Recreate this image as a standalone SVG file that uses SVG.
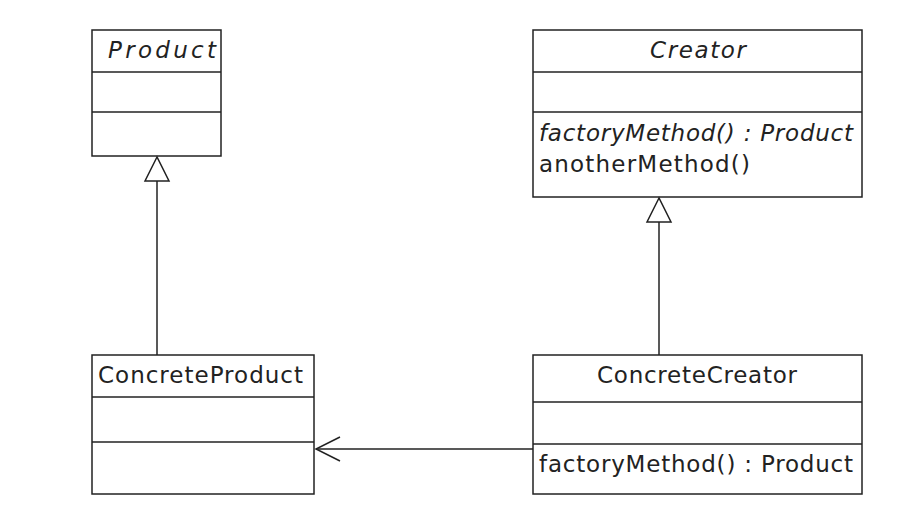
<svg xmlns="http://www.w3.org/2000/svg" width="905" height="512" viewBox="0 0 905 512">
<style>
.b{fill:#fff;stroke:#222;stroke-width:1.5}
.l{stroke:#222;stroke-width:1.5;fill:none}
text{font-family:"DejaVu Sans",sans-serif;font-size:23px;fill:#222}
.i{font-style:italic}
</style>
<rect width="905" height="512" fill="#fff"/>
<g id="Product"><rect class="b" x="92" y="30" width="129" height="126"/><line class="l" x1="92" y1="72" x2="221" y2="72"/><line class="l" x1="92" y1="112" x2="221" y2="112"/><text class="i" x="108" y="58" textLength="108">Product</text></g>
<g id="Creator"><rect class="b" x="533" y="30" width="329" height="167"/><line class="l" x1="533" y1="72" x2="862" y2="72"/><line class="l" x1="533" y1="112" x2="862" y2="112"/><text class="i" x="650" y="58" textLength="96">Creator</text><text class="i" x="539" y="141" textLength="314">factoryMethod() : Product</text><text x="539" y="172" textLength="211">anotherMethod()</text></g>
<g id="ConcreteProduct"><rect class="b" x="92" y="355" width="222" height="139"/><line class="l" x1="92" y1="397" x2="314" y2="397"/><line class="l" x1="92" y1="442" x2="314" y2="442"/><text x="98" y="383" textLength="205">ConcreteProduct</text></g>
<g id="ConcreteCreator"><rect class="b" x="533" y="355" width="329" height="139"/><line class="l" x1="533" y1="402" x2="862" y2="402"/><line class="l" x1="533" y1="444" x2="862" y2="444"/><text x="597" y="383" textLength="200">ConcreteCreator</text><text x="539" y="472" textLength="314">factoryMethod() : Product</text></g>
<g id="connectors">
<line class="l" x1="157" y1="355" x2="157" y2="181"/><polygon class="b" points="157,157 145,181 169,181"/>
<line class="l" x1="659" y1="355" x2="659" y2="222"/><polygon class="b" points="659,198 647,222 671,222"/>
<line class="l" x1="533" y1="449" x2="316" y2="449"/><polyline class="l" points="340,437 316,449 340,461"/>
</g>
</svg>
